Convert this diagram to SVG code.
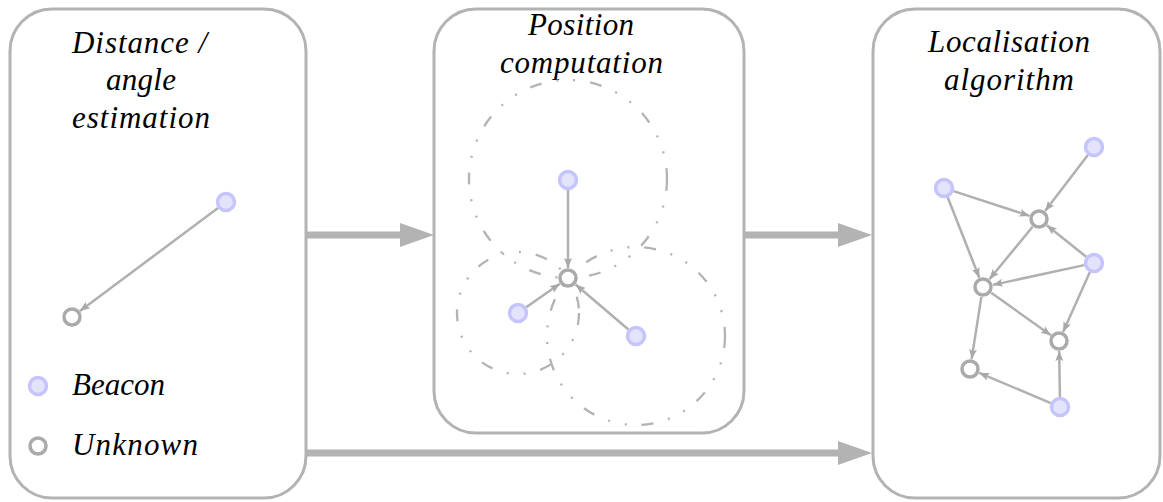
<svg xmlns="http://www.w3.org/2000/svg" width="1163" height="502" viewBox="0 0 1163 502">
  <style>
    .panel { fill: #ffffff; stroke: #b3b3b3; stroke-width: 3; }
    .title { font-family: "Liberation Serif", "DejaVu Serif", serif; font-style: italic; font-size: 31px; fill: #000; }
    .beacon { fill: #e3e3fb; stroke: #c5c5fb; stroke-width: 3.5; }
    .unknown { fill: #ffffff; stroke: #aaaaaa; stroke-width: 3.5; }
    .edge { stroke: #b0b0b0; stroke-width: 2.5; fill: none; marker-end: url(#tip); }
    .range { fill: none; stroke: #b3b3b3; stroke-width: 2.3; stroke-dasharray: 12 15 2 15 2 15; }
    .flow { stroke: #b3b3b3; stroke-width: 7; fill: none; }
    .head { fill: #b3b3b3; }
  </style>
  <defs>
    <marker id="tip" markerUnits="userSpaceOnUse" markerWidth="11" markerHeight="9" refX="10" refY="4" orient="auto">
      <path d="M0,0 L10,4 L0,8 L2,4 z" fill="#a8a8a8"/>
    </marker>
  </defs>

  <!-- Stage 1: distance / angle estimation -->
  <g id="stage-estimation">
    <rect class="panel" x="10" y="9" width="296" height="489" rx="42" ry="42"/>
    <text class="title" font-family="Liberation Serif, serif" x="72" y="53" textLength="135" lengthAdjust="spacing">Distance /</text>
    <text class="title" font-family="Liberation Serif, serif" x="106" y="90" textLength="70" lengthAdjust="spacing">angle</text>
    <text class="title" font-family="Liberation Serif, serif" x="72" y="128" textLength="138" lengthAdjust="spacing">estimation</text>
    <line class="edge" x1="218" y1="208" x2="80" y2="311"/>
    <circle class="beacon" cx="226" cy="202" r="8.5"/>
    <circle class="unknown" cx="72" cy="317" r="8"/>
    <!-- legend -->
    <circle class="beacon" cx="38" cy="386" r="8.5"/>
    <text class="title" font-family="Liberation Serif, serif" x="72" y="395" textLength="93" lengthAdjust="spacing">Beacon</text>
    <circle class="unknown" cx="38" cy="446" r="8"/>
    <text class="title" font-family="Liberation Serif, serif" x="72" y="455" textLength="126" lengthAdjust="spacing">Unknown</text>
  </g>

  <!-- Stage 2: position computation -->
  <g id="stage-position">
    <rect class="panel" x="434" y="9" width="310" height="424" rx="42" ry="42"/>
    <text class="title" font-family="Liberation Serif, serif" x="528" y="35" textLength="106" lengthAdjust="spacing">Position</text>
    <text class="title" font-family="Liberation Serif, serif" x="500" y="73" textLength="163" lengthAdjust="spacing">computation</text>
    <!-- range circles, each centred on a beacon and passing through the unknown node -->
    <circle class="range" cx="568" cy="179" r="99"/>
    <circle class="range" cx="518" cy="313" r="61"/>
    <circle class="range" cx="636" cy="336" r="89"/>
    <line class="edge" x1="568" y1="190" x2="568" y2="268"/>
    <line class="edge" x1="526.2" y1="307.3" x2="559.8" y2="283.7"/>
    <line class="edge" x1="628.4" y1="329.5" x2="575.6" y2="284.5"/>
    <circle class="beacon" cx="568" cy="180" r="8.5"/>
    <circle class="beacon" cx="518" cy="313" r="8.5"/>
    <circle class="beacon" cx="636" cy="336" r="8.5"/>
    <circle class="unknown" cx="568" cy="278" r="8"/>
  </g>

  <!-- Stage 3: localisation algorithm -->
  <g id="stage-localisation">
    <rect class="panel" x="873" y="9" width="287" height="489" rx="42" ry="42"/>
    <text class="title" font-family="Liberation Serif, serif" x="928" y="52" textLength="162" lengthAdjust="spacing">Localisation</text>
    <text class="title" font-family="Liberation Serif, serif" x="944" y="90" textLength="130" lengthAdjust="spacing">algorithm</text>
    <line class="edge" x1="1087.9" y1="155" x2="1045.1" y2="211"/>
    <line class="edge" x1="953.5" y1="191.1" x2="1029.5" y2="215.9"/>
    <line class="edge" x1="947.7" y1="197.3" x2="979.3" y2="277.7"/>
    <line class="edge" x1="1032.6" y1="226.7" x2="989.4" y2="279.3"/>
    <line class="edge" x1="1086.2" y1="256.8" x2="1046.8" y2="225.3"/>
    <line class="edge" x1="1084.2" y1="265.1" x2="992.8" y2="284.9"/>
    <line class="edge" x1="1089.9" y1="272.1" x2="1063.1" y2="331.9"/>
    <line class="edge" x1="991.2" y1="292.8" x2="1050.9" y2="335.2"/>
    <line class="edge" x1="981.4" y1="296.9" x2="971.6" y2="359.1"/>
    <line class="edge" x1="1050.8" y1="403.1" x2="979.2" y2="372.9"/>
    <line class="edge" x1="1059.9" y1="397" x2="1059.2" y2="351"/>
    <circle class="beacon" cx="1094" cy="147" r="8.5"/>
    <circle class="beacon" cx="944" cy="188" r="8.5"/>
    <circle class="beacon" cx="1094" cy="263" r="8.5"/>
    <circle class="beacon" cx="1060" cy="407" r="8.5"/>
    <circle class="unknown" cx="1039" cy="219" r="8"/>
    <circle class="unknown" cx="983" cy="287" r="8"/>
    <circle class="unknown" cx="1059" cy="341" r="8"/>
    <circle class="unknown" cx="970" cy="369" r="8"/>
  </g>

  <!-- Flow between stages -->
  <g id="connectors">
    <line class="flow" x1="306" y1="235" x2="402" y2="235"/>
    <polygon class="head" points="400,223 434,235 400,247"/>
    <line class="flow" x1="744" y1="235" x2="840" y2="235"/>
    <polygon class="head" points="838,223 872,235 838,247"/>
    <line class="flow" x1="306" y1="453" x2="840" y2="453"/>
    <polygon class="head" points="838,441 872,453 838,465"/>
  </g>
</svg>
